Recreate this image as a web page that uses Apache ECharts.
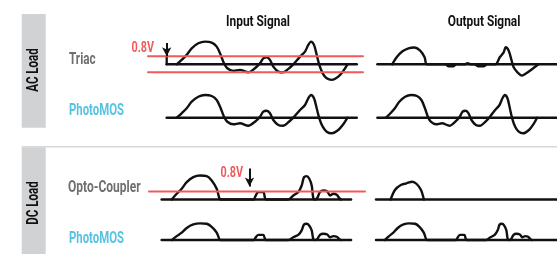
<!DOCTYPE html>
<html><head><meta charset="utf-8">
<script src="https://cdn.jsdelivr.net/npm/echarts@6/dist/echarts.min.js"></script>
<style>html,body{margin:0;padding:0;background:#fff}#c{width:557px;height:254px}</style>
</head><body><div id="c"></div>
<script>
// ---- text ----
const columnTitles = ['Input Signal', 'Output Signal'];
const groupLabels = ['AC Load', 'DC Load'];
const rowLabels = ['Triac', 'PhotoMOS', 'Opto-Coupler', 'PhotoMOS'];
const thresholdLabel = '0.8V';
const threshold = 0.8;           // volts

// ---- waveforms: [time (ms), volts] ----
const acInput = [[16.7,0],[21.7,0.44],[26.7,0.94],[31.7,1.6],[38.3,2.1],[45,2.27],[51.7,2.17],[56.7,1.77],[60.7,0.94],[64,0.1],[67.3,-0.4],[73.3,-0.66],[80,-0.56],[88.3,-0.8],[95,-0.4],[100,0.1],[103.3,0.6],[106.7,0.7],[110,0.44],[113.3,-0.23],[118.3,-0.73],[123.3,-0.8],[128.3,-0.46],[133.3,0],[140,0.77],[145,1.27],[148.3,1.94],[151,2.27],[154,1.94],[156.7,0.94],[159.3,-0.06],[162.7,-0.9],[166.7,-1.4],[171.7,-1.56],[178.3,-1.23],[183.3,-0.66],[187.5,0]];
const triacOutput = [[23.7,0],[28.7,0.7],[35.3,1.3],[42,1.6],[48.7,1.68],[55.3,1.37],[60.3,0.7],[63,0],[84,0],[87,-0.2],[93,-0.2],[96,0],[105,0],[109,0.1],[113,0],[117,0],[121,-0.2],[127,-0.2],[131,0],[140.3,0],[145.3,0.7],[149.7,1.2],[152,1.7],[155.3,1.37],[158.7,0.37],[161,-0.3],[165.3,-0.8],[170.3,-1.13],[175.3,-0.9],[182,-0.47],[189,0]];
const dcInput = [[11.7,0],[16.7,0.57],[21.7,1.07],[26.7,1.74],[33.3,2.24],[40,2.4],[46.7,2.34],[51.7,1.9],[56.7,1.07],[59.3,0.14],[60.5,0],[94,0],[95,0.24],[98.3,0.74],[103.3,0.74],[105,0.14],[106,0],[128.3,0],[133.3,0.4],[138.3,0.74],[141.7,1.4],[144,2.24],[146.7,2.34],[149.3,2.07],[151.7,1.4],[153.3,0.14],[155,0],[157,0.1],[160,0.74],[163.3,0.9],[167.3,0.8],[170,0.4],[173.3,0.57],[176.7,0.47],[179.3,0.14],[181,0]];
const optoOutput = [[18.5,0],[23.5,0.95],[30.2,1.45],[36.8,1.62],[43.5,1.78],[48.5,1.55],[53.5,0.95],[56.8,0]];

// ---- baselines / thresholds / trigger arrows (time ranges) ----
const acInputBase = [[6.7,0],[196.7,0]];
const acOutputBase = [[7,0],[210,0]];
const dcInputBase = [[1.7,0],[191,0]];
const dcOutputBase = [[1.8,0],[210,0]];
const acThresholdSpan = [-12, 203];
const dcThresholdSpan = [-11, 205];
const triacTrigger = [[6.7, 2.13], [6.7, 0.8]];
const triacTriggerTail = [[6.7, 0.8], [6.7, 0]];
const optoTrigger = [[89.5, 3.1], [89.5, 1.3]];

// ---- layout ----
const BLACK = '#111', RED = '#ef5a5d', GRAY = '#6e6f71', CYAN = '#55c3e0', BAR = '#d1d2d4';
const FONT = "Roboto, sans-serif";
const rowTops = [29.3, 82.7, 164.5, 215.7];
const colLefts = [[145, 358], [145, 358], [145, 361.5], [145, 361.5]];

const grids = [], xAxes = [], yAxes = [];
for (let r = 0; r < 4; r++) for (let c = 0; c < 2; c++) {
  grids.push({ left: colLefts[r][c], top: rowTops[r], width: 225, height: 55 });
  xAxes.push({ type: 'value', gridIndex: grids.length - 1, min: -15, max: 210, show: false });
  yAxes.push({ type: 'value', gridIndex: grids.length - 1, min: -2, max: 3.5, show: false });
}
const gi = (r, c) => r * 2 + c;
function line(g, data, color, width, z, smooth) {
  return { type: 'line', xAxisIndex: g, yAxisIndex: g, data, symbol: 'none', showSymbol: false,
    smooth: smooth || 0, lineStyle: { color, width, cap: 'round', join: 'round' }, z, silent: true, animation: false };
}
const hline = (span, v) => [[span[0], v], [span[1], v]];
const series = [];
// baselines
series.push(line(gi(0,0), acInputBase, BLACK, 2.6, 2));
series.push(line(gi(1,0), acInputBase, BLACK, 2.6, 2));
series.push(line(gi(0,1), acOutputBase, BLACK, 2.6, 2));
series.push(line(gi(1,1), acOutputBase, BLACK, 2.6, 2));
series.push(line(gi(2,0), dcInputBase, BLACK, 2.6, 2));
series.push(line(gi(3,0), dcInputBase, BLACK, 2.6, 2));
series.push(line(gi(2,1), dcOutputBase, BLACK, 2.6, 2));
series.push(line(gi(3,1), dcOutputBase, BLACK, 2.6, 2));
// waves
series.push(line(gi(0,0), acInput, BLACK, 2.4, 3, 0.3));
series.push(line(gi(1,0), acInput, BLACK, 2.4, 3, 0.3));
series.push(line(gi(0,1), triacOutput, BLACK, 2.4, 3, 0.3));
series.push(line(gi(1,1), acInput, BLACK, 2.4, 3, 0.3));
series.push(line(gi(2,0), dcInput, BLACK, 2.4, 3, 0.3));
series.push(line(gi(3,0), dcInput, BLACK, 2.4, 3, 0.3));
series.push(line(gi(2,1), optoOutput, BLACK, 2.4, 3, 0.3));
series.push(line(gi(3,1), dcInput, BLACK, 2.4, 3, 0.3));
// thresholds
series.push(line(gi(0,0), hline(acThresholdSpan, threshold), RED, 2, 4));
series.push(line(gi(0,0), hline(acThresholdSpan, -threshold), RED, 2, 4));
series.push(line(gi(2,0), hline(dcThresholdSpan, threshold), RED, 2, 4));
// trigger arrows
function arrow(g, seg) {
  return { type: 'line', xAxisIndex: g, yAxisIndex: g, data: [], silent: true, animation: false,
    markLine: { silent: true, animation: false, symbol: ['none', 'arrow'], symbolSize: [7, 9],
      lineStyle: { color: BLACK, width: 2, type: 'solid' }, label: { show: false },
      data: [[{ coord: seg[0] }, { coord: seg[1] }]] }, z: 5 };
}
series.push(arrow(gi(0,0), triacTrigger));
series.push(line(gi(0,0), triacTriggerTail, BLACK, 2.3, 3));
series.push(arrow(gi(2,0), optoTrigger));

function txt(x, y, text, color, size, sx, align, rot) {
  return { type: 'text', x, y, rotation: rot || 0, scaleX: sx, scaleY: 1, silent: true, z: 10,
    style: { text, x: 0, y: 0, fill: color, font: `bold ${size}px ${FONT}`,
      textAlign: align || 'left', align: align || 'left', textVerticalAlign: 'middle', verticalAlign: 'middle' } };
}
const graphic = [
  { type: 'rect', shape: { x: 21.7, y: 14, width: 24, height: 113.7 }, style: { fill: BAR }, silent: true },
  { type: 'rect', shape: { x: 21.7, y: 147.3, width: 24, height: 110 }, style: { fill: BAR }, silent: true },
  { type: 'line', shape: { x1: 21.7, y1: 146.7, x2: 557, y2: 146.7 }, style: { stroke: '#d8d8d8', lineWidth: 1.5 }, silent: true },
  txt(258, 22, columnTitles[0], BLACK, 14.5, 0.82, 'center'),
  txt(484, 22, columnTitles[1], BLACK, 14.5, 0.82, 'center'),
  txt(33.7, 70, groupLabels[0], BLACK, 16, 0.72, 'center', Math.PI / 2),
  txt(33.7, 203, groupLabels[1], BLACK, 16, 0.72, 'center', Math.PI / 2),
  txt(69, 60, rowLabels[0], GRAY, 16, 0.73),
  txt(69, 110.5, rowLabels[1], CYAN, 16, 0.71),
  txt(68, 188, rowLabels[2], GRAY, 16, 0.75),
  txt(69, 238.5, rowLabels[3], CYAN, 16, 0.71),
  txt(131.5, 48.3, thresholdLabel, RED, 14, 0.77),
  txt(220.5, 173, thresholdLabel, RED, 14, 0.77)
];

const chart = echarts.init(document.getElementById('c'), null, { renderer: 'canvas' });
chart.setOption({ animation: false, backgroundColor: '#fff', grid: grids, xAxis: xAxes, yAxis: yAxes, series, graphic });
</script></body></html>
